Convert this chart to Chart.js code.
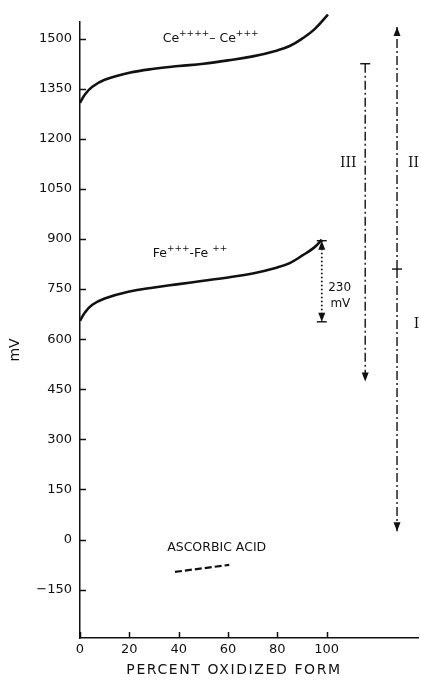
<!DOCTYPE html>
<html>
<head>
<meta charset="utf-8">
<script src="https://cdn.jsdelivr.net/npm/chart.js@4"></script>
<style>
  html, body { margin: 0; padding: 0; background: #fff; }
</style>
</head>
<body>
<canvas id="chart" width="421" height="684"></canvas>
<script>
// tick labels
const xTicks = [0, 20, 40, 60, 80, 100];
const yTicks = [-150, 0, 150, 300, 450, 600, 750, 900, 1050, 1200, 1350, 1500];

// Ce++++ - Ce+++ titration curve
const ceX = [0, 2, 5, 10, 20, 30, 40, 50, 60, 70, 80, 85, 90, 95, 100.5];
const ceY = [1308, 1333, 1356, 1377, 1398, 1410, 1418, 1425, 1435, 1447, 1465, 1478, 1500, 1528, 1572];

// Fe+++ - Fe++ titration curve
const feX = [0, 2, 5, 10, 20, 30, 40, 50, 60, 70, 80, 85, 90, 95, 98];
const feY = [655, 680, 703, 722, 743, 755, 765, 775, 785, 797, 815, 828, 850, 875, 898];

// ascorbic acid segment
const ascX = [38.5, 60.5];
const ascY = [-97, -76];

// range markers (x position, mV from -> to)
const span230X = [98, 98];
const span230Y = [895, 652];
const rangeIIIX = [115.6, 115.6];
const rangeIIIY = [1425, 473];
const rangeIIX = [128.5, 128.5];
const rangeIIY = [810, 1535];
const rangeIX = [128.5, 128.5];
const rangeIY = [810, 25];

const pts = (xs, ys) => xs.map((x, i) => ({ x: x, y: ys[i] }));
const FONT = '"DejaVu Sans", sans-serif';
const SERIF = '"DejaVu Serif", serif';

function drawRich(ctx, parts, x, y) {
  // parts: [text, isSuperscript]
  let cx = x;
  parts.forEach(([t, sup]) => {
    ctx.font = (sup ? '9px ' : '12.5px ') + FONT;
    ctx.fillText(t, cx, sup ? y - 6 : y);
    cx += ctx.measureText(t).width;
  });
}

const decorations = {
  id: 'decorations',
  afterDraw(chart) {
    const ctx = chart.ctx;
    const xs = chart.scales.x, ys = chart.scales.y;
    const ca = chart.chartArea;
    ctx.save();
    ctx.strokeStyle = '#111';
    ctx.fillStyle = '#111';
    ctx.setLineDash([]);
    ctx.lineWidth = 1.5;

    // inward tick marks
    ctx.beginPath();
    yTicks.forEach(v => {
      const py = Math.round(ys.getPixelForValue(v)) + 0.5;
      ctx.moveTo(ca.left, py); ctx.lineTo(ca.left + 6, py);
    });
    xTicks.forEach(v => {
      const px = Math.round(xs.getPixelForValue(v)) + 0.5;
      ctx.moveTo(px, ca.bottom); ctx.lineTo(px, ca.bottom - 6);
    });
    ctx.stroke();

    // arrowheads and end bars
    chart.data.datasets.forEach((ds, i) => {
      if (!ds.ends) return;
      const d = chart.getDatasetMeta(i).data;
      const mark = (p, q, kind) => {
        const ang = Math.atan2(p.y - q.y, p.x - q.x);
        ctx.save();
        ctx.translate(p.x, p.y);
        ctx.rotate(ang);
        if (kind.includes('arrow')) {
          ctx.beginPath();
          ctx.moveTo(0, 0); ctx.lineTo(-9, -3.5); ctx.lineTo(-9, 3.5); ctx.closePath();
          ctx.fill();
        }
        if (kind.includes('bar')) {
          ctx.beginPath();
          ctx.lineWidth = 1.4;
          ctx.moveTo(0, -5); ctx.lineTo(0, 5);
          ctx.stroke();
        }
        ctx.restore();
      };
      if (ds.ends[0]) mark(d[0], d[1], ds.ends[0]);
      if (ds.ends[1]) mark(d[d.length - 1], d[d.length - 2], ds.ends[1]);
    });

    // curve labels
    ctx.textBaseline = 'alphabetic';
    ctx.textAlign = 'left';
    drawRich(ctx, [['Ce', false], ['++++', true], ['\u2013 Ce', false], ['+++', true]],
      xs.getPixelForValue(33.5), ys.getPixelForValue(1491));
    drawRich(ctx, [['Fe', false], ['+++', true], ['-Fe ', false], ['++', true]],
      xs.getPixelForValue(29.5), ys.getPixelForValue(847));

    ctx.font = '12px ' + FONT;
    ctx.textBaseline = 'middle';
    ctx.fillText('230', xs.getPixelForValue(100.6), ys.getPixelForValue(755));
    ctx.fillText('mV', xs.getPixelForValue(101.5), ys.getPixelForValue(705));

    ctx.textAlign = 'center';
    ctx.font = '12.5px ' + FONT;
    ctx.fillText('ASCORBIC ACID', xs.getPixelForValue(55.4), ys.getPixelForValue(-24));

    ctx.font = '14px ' + SERIF;
    ctx.fillText('III', xs.getPixelForValue(108.7), ys.getPixelForValue(1126));
    ctx.fillText('II', xs.getPixelForValue(135.2), ys.getPixelForValue(1126));
    ctx.fillText('I', xs.getPixelForValue(136.4), ys.getPixelForValue(644));

    // axis titles
    ctx.font = '14px ' + FONT;
    ctx.letterSpacing = '1.6px';
    ctx.fillText('PERCENT OXIDIZED FORM', 234, 670);
    ctx.letterSpacing = '0px';
    ctx.save();
    ctx.translate(15, 350);
    ctx.rotate(-Math.PI / 2);
    ctx.fillText('mV', 0, 0);
    ctx.restore();

    ctx.restore();
  }
};

const line = (data, extra) => Object.assign({
  data: data,
  borderColor: '#111',
  borderWidth: 1.4,
  pointRadius: 0,
  fill: false,
  showLine: true,
  tension: 0,
}, extra);

new Chart(document.getElementById('chart'), {
  type: 'scatter',
  data: {
    datasets: [
      line(pts(ceX, ceY), { borderWidth: 2.6, tension: 0.4, clip: false }),
      line(pts(feX, feY), { borderWidth: 2.6, tension: 0.4 }),
      line(pts(ascX, ascY), { borderWidth: 2.2, borderDash: [7, 3] }),
      line(pts(span230X, span230Y), { borderWidth: 1.8, borderDash: [1.5, 2.5], ends: ['arrow bar', 'arrow bar'] }),
      line(pts(rangeIIIX, rangeIIIY), { borderDash: [9, 3, 2, 3], ends: ['bar', 'arrow'] }),
      line(pts(rangeIIX, rangeIIY), { borderDash: [9, 3, 2, 3], ends: ['bar', 'arrow'] }),
      line(pts(rangeIX, rangeIY), { borderDash: [9, 3, 2, 3], ends: [null, 'arrow'] }),
    ],
  },
  options: {
    responsive: false,
    animation: false,
    devicePixelRatio: 1,
    layout: { padding: { top: 22, right: 3, left: 0, bottom: 0 } },
    plugins: {
      legend: { display: false },
      tooltip: { enabled: false },
    },
    scales: {
      x: {
        type: 'linear',
        min: 0,
        max: 137,
        afterBuildTicks: s => { s.ticks = xTicks.map(v => ({ value: v })); },
        afterFit: s => { s.height = 46; },
        grid: { drawOnChartArea: false, drawTicks: false },
        border: { display: true, color: '#111', width: 1.5 },
        ticks: { color: '#111', padding: 4, font: { family: FONT, size: 13 }, maxRotation: 0, autoSkip: false,
          callback: v => String(v) },
      },
      y: {
        type: 'linear',
        min: -295,
        max: 1550,
        afterBuildTicks: s => { s.ticks = yTicks.map(v => ({ value: v })); },
        afterFit: s => { s.width = 80; },
        grid: { drawOnChartArea: false, drawTicks: false },
        border: { display: true, color: '#111', width: 1.5 },
        ticks: { color: '#111', padding: 8, font: { family: FONT, size: 13 }, autoSkip: false,
          callback: v => (v < 0 ? '\u2212' + Math.abs(v) : String(v)) },
      },
    },
  },
  plugins: [decorations],
});
</script>
</body>
</html>
